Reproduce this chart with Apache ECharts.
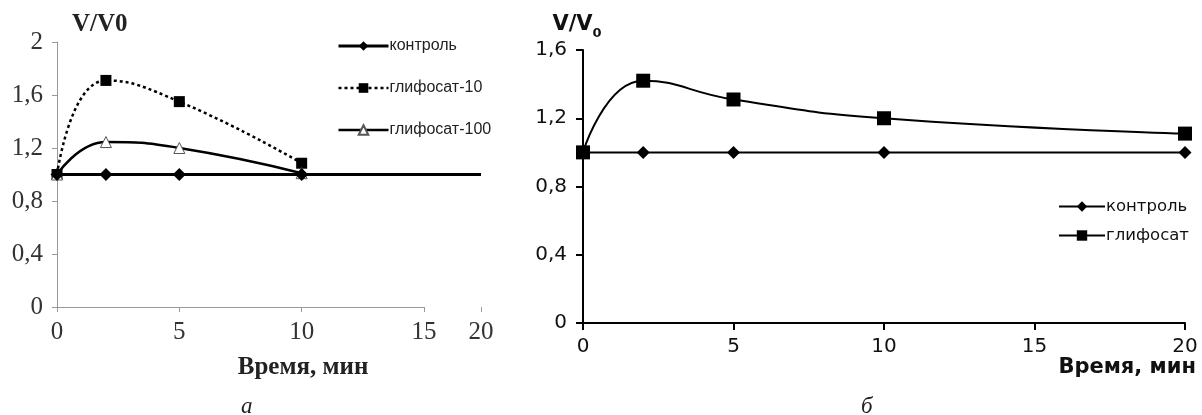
<!DOCTYPE html>
<html>
<head>
<meta charset="utf-8">
<script src="https://cdn.jsdelivr.net/npm/echarts@6/dist/echarts.min.js"></script>
<style>
html,body{margin:0;padding:0;background:#fff;}
#chart{width:1202px;height:415px;}
</style>
</head>
<body>
<div id="chart"></div>
<script>
// ---- Panel а ----
var timeA = [0, 2, 5, 10];
var timeControlA = [0, 2, 5, 10, 20];
var controlA = [1, 1, 1, 1, 1];
var gly10A = [1, 1.71, 1.55, 1.085];
var gly100A = [1, 1.245, 1.2, 1.01];
var xTicksA = [0, 5, 10, 15, 20];
var yTicksA = [0, 0.4, 0.8, 1.2, 1.6, 2];
// ---- Panel б ----
var timeB = [0, 2, 5, 10, 20];
var controlB = [1, 1, 1, 1, 1];
var glyB = [1, 1.42, 1.31, 1.2, 1.11];
var xTicksB = [0, 5, 10, 15, 20];
var yTicksB = [0, 0.4, 0.8, 1.2, 1.6];

var namesA = ['контроль', 'глифосат-10', 'глифосат-100'];
var namesB = ['контроль', 'глифосат'];

function pairs(xs, ys) { return xs.map(function (x, i) { return [x, ys[i]]; }); }
function fmtNum(v) {
  var r = Math.round(v * 10) / 10;
  return (Number.isInteger(r) ? String(r) : r.toFixed(1)).replace('.', ',');
}

var serifA = 'Liberation Serif';
var sansB = 'DejaVu Sans';

var chart = echarts.init(document.getElementById('chart'), null, { renderer: 'canvas' });

var controlAData = pairs(timeControlA, controlA).map(function (p, i) {
  return i === timeControlA.length - 1 ? { value: p, symbol: 'none' } : p;
});

var option = {
  animation: false,
  backgroundColor: '#fff',
  title: [
    { text: 'а', left: 236, top: 390, textStyle: { fontFamily: serifA, fontStyle: 'italic', fontWeight: 'normal', fontSize: 23, color: '#222' } },
    { text: 'б', left: 856, top: 390, textStyle: { fontFamily: serifA, fontStyle: 'italic', fontWeight: 'normal', fontSize: 23, color: '#222' } }
  ],
  legend: [
    {
      data: namesA,
      orient: 'vertical',
      left: 332, top: 33,
      itemWidth: 50, itemHeight: 12, itemGap: 26,
      lineStyle: { width: 'inherit' },
      textStyle: { fontFamily: 'Liberation Sans', fontSize: 16, color: '#222', padding: [0, 0, 0, -4] }
    },
    {
      data: namesB.map(function (n) { return { name: n + ' ' }; }),
      orient: 'vertical',
      left: 1053, top: 193,
      itemWidth: 46, itemHeight: 13, itemGap: 12,
      lineStyle: { width: 'inherit' },
      textStyle: { fontFamily: sansB, fontSize: 16.5, color: '#111', padding: [0, 0, 0, -4] }
    }
  ],
  grid: [
    { left: 57, top: 42, width: 424, height: 265, containLabel: false, outerBoundsMode: 'none' },
    { left: 583, top: 50, width: 602, height: 273, containLabel: false, outerBoundsMode: 'none' }
  ],
  xAxis: [
    {
      gridIndex: 0, type: 'value', min: 0, max: 20, interval: 5,
      breaks: [{ start: 15, end: 20, gap: 2.33 }],
      breakArea: { show: false },
      axisLine: { lineStyle: { color: '#999', width: 1 } },
      axisTick: { show: true, length: 5, lineStyle: { color: '#999' } },
      splitLine: { show: false },
      axisLabel: { margin: 13, fontFamily: serifA, fontSize: 25, color: '#333', formatter: fmtNum },
      name: 'Время, мин', nameLocation: 'middle', nameGap: 61,
      nameTextStyle: { fontFamily: serifA, fontWeight: 'bold', fontSize: 25, color: '#222', verticalAlign: 'middle', padding: [0, 0, 0, 68] }
    },
    {
      gridIndex: 1, type: 'value', min: 0, max: 20, interval: 5,
      axisLine: { lineStyle: { color: '#000', width: 2 } },
      axisTick: { show: true, length: 7, lineStyle: { color: '#000', width: 2 } },
      splitLine: { show: false },
      axisLabel: { margin: 14, fontFamily: sansB, fontSize: 20, color: '#111', formatter: fmtNum },
      name: 'Время, мин', nameLocation: 'end', nameGap: 11,
      nameTextStyle: { fontFamily: sansB, fontWeight: 'bold', fontSize: 21, color: '#111', align: 'right', verticalAlign: 'top', padding: [34, 0, 0, 0] }
    }
  ],
  yAxis: [
    {
      gridIndex: 0, type: 'value', min: 0, max: 2, interval: 0.4,
      axisLine: { show: true, lineStyle: { color: '#999', width: 1 } },
      axisTick: { show: true, length: 5, lineStyle: { color: '#999' } },
      splitLine: { show: false },
      axisLabel: { margin: 14, fontFamily: serifA, fontSize: 25, color: '#333', formatter: fmtNum },
      name: 'V/V0', nameLocation: 'end', nameGap: 17,
      nameTextStyle: { fontFamily: serifA, fontWeight: 'bold', fontSize: 25, color: '#222', align: 'left', verticalAlign: 'middle', padding: [0, 0, 0, 15] }
    },
    {
      gridIndex: 1, type: 'value', min: 0, max: 1.6, interval: 0.4,
      axisLine: { show: true, lineStyle: { color: '#000', width: 2 } },
      axisTick: { show: true, length: 7, lineStyle: { color: '#000', width: 2 } },
      splitLine: { show: false },
      axisLabel: { margin: 16, fontFamily: sansB, fontSize: 20, color: '#111', formatter: fmtNum },
      name: '{a|V/V}{b|0}', nameLocation: 'end', nameGap: 21,
      nameTextStyle: {
        align: 'center', verticalAlign: 'middle', padding: [0, 12, 0, 0],
        rich: {
          a: { fontFamily: sansB, fontWeight: 'bold', fontSize: 21, color: '#111', verticalAlign: 'bottom' },
          b: { fontFamily: sansB, fontWeight: 'bold', fontSize: 13, color: '#111', verticalAlign: 'bottom', padding: [0, 0, -5, 0] }
        }
      }
    }
  ],
  series: [
    {
      name: namesA[0], type: 'line', xAxisIndex: 0, yAxisIndex: 0,
      data: controlAData,
      symbol: 'diamond', symbolSize: 13,
      lineStyle: { color: '#000', width: 3 },
      itemStyle: { color: '#000' }, z: 3
    },
    {
      name: namesA[1], type: 'line', xAxisIndex: 0, yAxisIndex: 0,
      data: pairs(timeA, gly10A), smooth: 0.5,
      symbol: 'rect', symbolSize: 11,
      lineStyle: { color: '#000', width: 2.5, type: [3, 3] },
      itemStyle: { color: '#000' }, z: 2
    },
    {
      name: namesA[2], type: 'line', xAxisIndex: 0, yAxisIndex: 0,
      data: pairs(timeA, gly100A), smooth: 0.5,
      symbol: 'triangle', symbolSize: 11,
      lineStyle: { color: '#000', width: 2.5 },
      itemStyle: { color: '#fff', borderColor: '#555', borderWidth: 1 }, z: 2
    },
    {
      name: namesB[0] + ' ', type: 'line', xAxisIndex: 1, yAxisIndex: 1,
      data: pairs(timeB, controlB),
      symbol: 'diamond', symbolSize: 13,
      lineStyle: { color: '#000', width: 2 },
      itemStyle: { color: '#000' }, z: 2
    },
    {
      name: namesB[1] + ' ', type: 'line', xAxisIndex: 1, yAxisIndex: 1,
      data: pairs(timeB, glyB), smooth: 0.5,
      symbol: 'rect', symbolSize: 14,
      lineStyle: { color: '#000', width: 2 },
      itemStyle: { color: '#000' }, z: 3
    }
  ]
};
chart.setOption(option);
</script>
</body>
</html>
